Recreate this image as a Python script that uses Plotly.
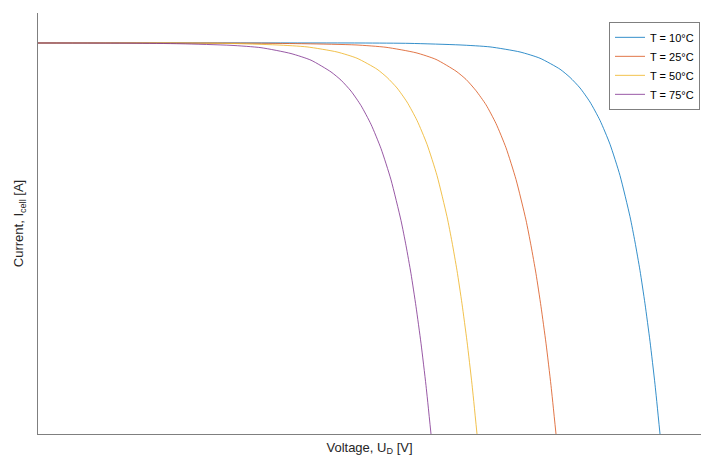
import plotly.graph_objects as go

# Values (voltage in V, current normalised to short-circuit current)
v_10 = [0.000, 0.322, 0.372, 0.422, 0.452, 0.482, 0.502, 0.522, 0.532, 0.542, 0.552, 0.562,
        0.572, 0.582, 0.592, 0.597, 0.602, 0.607, 0.612, 0.617, 0.622]
i_10 = [1.000, 1.000, 0.999, 0.995, 0.990, 0.977, 0.961, 0.933, 0.912, 0.885, 0.849, 0.802,
        0.741, 0.661, 0.556, 0.491, 0.418, 0.333, 0.237, 0.127, 0.000]

v_25 = [0.000, 0.218, 0.268, 0.318, 0.348, 0.378, 0.398, 0.418, 0.428, 0.438, 0.448, 0.458,
        0.468, 0.478, 0.488, 0.493, 0.498, 0.503, 0.508, 0.513, 0.518]
i_25 = [1.000, 0.9995, 0.998, 0.995, 0.989, 0.975, 0.958, 0.928, 0.907, 0.878, 0.842, 0.794,
        0.732, 0.651, 0.547, 0.482, 0.410, 0.326, 0.232, 0.124, 0.000]

v_50 = [0.000, 0.139, 0.189, 0.239, 0.269, 0.299, 0.319, 0.339, 0.349, 0.359, 0.369, 0.379,
        0.389, 0.399, 0.409, 0.414, 0.419, 0.424, 0.429, 0.434, 0.439]
i_50 = [1.000, 1.000, 0.999, 0.995, 0.990, 0.977, 0.961, 0.933, 0.912, 0.885, 0.849, 0.802,
        0.741, 0.661, 0.556, 0.491, 0.418, 0.333, 0.237, 0.127, 0.000]

v_75 = [0.000, 0.093, 0.143, 0.193, 0.223, 0.253, 0.273, 0.293, 0.303, 0.313, 0.323, 0.333,
        0.343, 0.353, 0.363, 0.368, 0.373, 0.378, 0.383, 0.388, 0.393]
i_75 = [1.000, 0.9995, 0.998, 0.994, 0.988, 0.973, 0.956, 0.926, 0.905, 0.877, 0.840, 0.792,
        0.730, 0.650, 0.546, 0.482, 0.410, 0.326, 0.232, 0.124, 0.000]

series_names = ["T = 10°C", "T = 25°C", "T = 50°C", "T = 75°C"]
series_v = [v_10, v_25, v_50, v_75]
series_i = [i_10, i_25, i_50, i_75]
colors = ["#0072BD", "#D95319", "#EDB120", "#7E2F8E"]

x_range = [0, 0.663]
y_range = [0, 1.0767]

fig = go.Figure()
for name, v, i, c in zip(series_names, series_v, series_i, colors):
    fig.add_trace(go.Scatter(x=v, y=i, mode="lines", name=name,
                             line=dict(color=c, width=0.8, shape="spline", smoothing=0.6)))

font_family = "Arial"
fig.update_layout(
    width=701, height=460,
    margin=dict(l=38, r=0, t=13, b=26),
    paper_bgcolor="white", plot_bgcolor="white",
    font=dict(family=font_family, size=13, color="#262626"),
    showlegend=True,
    legend=dict(x=0.9985, y=0.979, xanchor="right", yanchor="top",
                bgcolor="white", bordercolor="#7f7f7f", borderwidth=1,
                font=dict(family=font_family, size=11, color="#000000"),
                tracegroupgap=0),
    xaxis=dict(range=x_range, showline=True, linecolor="#7f7f7f", linewidth=1,
               showgrid=False, zeroline=False, showticklabels=False, ticks="",
               automargin=False,
               title=dict(text="Voltage, U<sub>D</sub> [V]", standoff=8,
                          font=dict(size=13, color="#262626"))),
    yaxis=dict(range=y_range, showline=True, linecolor="#7f7f7f", linewidth=1,
               showgrid=False, zeroline=False, showticklabels=False, ticks="",
               automargin=False,
               title=dict(text="Current, I<sub>cell</sub> [A]", standoff=10,
                          font=dict(size=13, color="#262626"))),
)

fig.write_html("out.html", config={"displayModeBar": False},
               post_script="document.body.style.margin='0';document.body.style.padding='0';")
